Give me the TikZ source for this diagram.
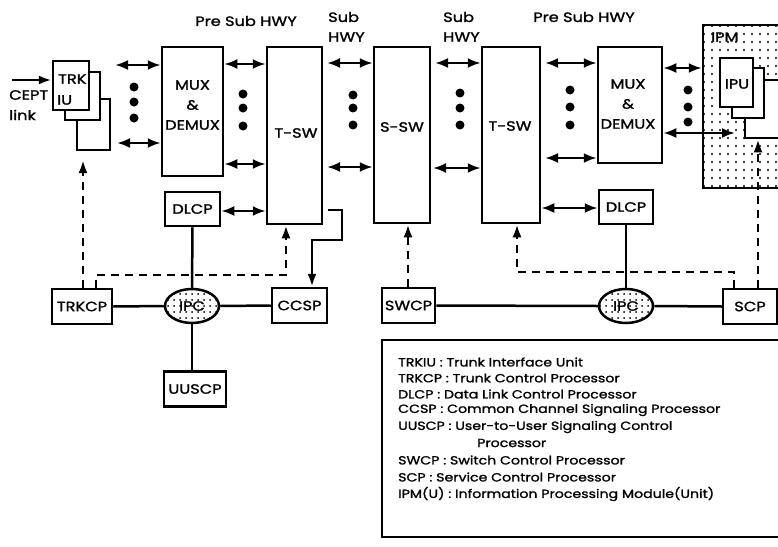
\documentclass[tikz,border=0pt]{standalone}
\usepackage{fontspec}
\setmainfont{Poppins}[FakeStretch=1.2,FakeBold=1.4]
\usetikzlibrary{arrows.meta,shapes.geometric,patterns.meta}
\begin{document}
\begin{tikzpicture}[x=1pt,y=-1pt,
  bx/.style={draw,line width=2.5pt,inner sep=0pt,fill=white},
  lbl/.style={inner sep=0pt,font=\fontsize{13.5}{15}\selectfont},
  lgd/.style={inner sep=0pt,anchor=west,font=\fontsize{11.8}{14}\selectfont},
  dbl/.style={line width=2.5pt,{Latex[length=13pt,width=10pt]}-{Latex[length=13pt,width=10pt]}},
  sarr/.style={line width=2.5pt,-{Latex[length=13pt,width=9pt]}},
  sln/.style={line width=2.5pt},
  dsh/.style={line width=2.5pt,dash pattern=on 8pt off 6pt,-{Latex[length=13pt,width=9pt]}},
  dt/.style={circle,fill,inner sep=0pt,minimum size=9pt},
  ipcst/.style={ellipse,draw,line width=2.5pt,minimum width=54pt,minimum height=34pt,inner sep=0pt,pattern={Dots[distance=6pt,radius=1pt]}}
]
\useasboundingbox (0,0) rectangle (778,546);

% ---- top labels
\node[lbl] (psh1) at (246,21) {Pre Sub HWY};
\node[lbl] (psh2) at (584,17) {Pre Sub HWY};
\node[lbl,anchor=west,align=left] (sh1a) at (328,17) {Sub};
\node[lbl,anchor=west,align=left] (sh1b) at (328,37) {HWY};
\node[lbl,anchor=west,align=left] (sh2a) at (443,17) {Sub};
\node[lbl,anchor=west,align=left] (sh2b) at (443,37) {HWY};
\node[lbl,anchor=west] (cept) at (9,95) {CEPT};
\node[lbl,anchor=west] (link) at (9,115) {link};

% ---- TRKIU stack
\node[bx,minimum width=33pt,minimum height=51pt] (trkiu3) at (93.5,124.5) {};
\node[bx,minimum width=35pt,minimum height=48pt] (trkiu2) at (82.5,96) {};
\node[bx,minimum width=36pt,minimum height=49pt] (trkiu1) at (71,85.5) {};
\node[lbl,anchor=west] (trkt) at (58,79) {TRK};
\node[lbl,anchor=west] (iut) at (57,100) {IU};
\coordinate (ceptin) at (12,80);
\draw[sarr] (ceptin) -- (trkiu1.west |- ceptin);

% ---- main boxes
\node[bx,minimum width=61pt,minimum height=129pt] (mux1) at (192.5,111.5) {};
\node[lbl,align=center,font=\fontsize{13.5}{20}\selectfont] (mux1t) at (192.5,105) {MUX\\\&\\DEMUX};
\node[bx,minimum width=55pt,minimum height=177pt] (tsw1) at (294.5,135.5) {};
\node[lbl] (tsw1t) at (296,133) {T-SW};
\node[bx,minimum width=56pt,minimum height=176pt] (ssw) at (402,135) {};
\node[lbl] (sswt) at (402,127) {S-SW};
\node[bx,minimum width=58pt,minimum height=176pt] (tsw2) at (511,135) {};
\node[lbl] (tsw2t) at (510,126) {T-SW};
\node[bx,minimum width=64pt,minimum height=116pt] (mux2) at (630,105) {};
\node[lbl,align=center,font=\fontsize{13.5}{20}\selectfont] (mux2t) at (628,104) {MUX\\\&\\DEMUX};

% ---- IPM
\node[draw,line width=2.5pt,inner sep=0pt,minimum width=82pt,minimum height=163pt,
      pattern={Dots[distance=8pt,radius=1.1pt]}] (ipm) at (744,106.5) {};
\node[lbl,anchor=west] (ipmt) at (711,37) {IPM};
\node[bx,minimum width=40pt,minimum height=58pt] (ipu3) at (765,109) {};
\node[bx,minimum width=32pt,minimum height=50pt] (ipu2) at (748,93) {};
\node[bx,minimum width=33pt,minimum height=49pt] (ipu1) at (736.5,82.5) {};
\node[lbl] (iput) at (737,84) {IPU};

% ---- horizontal double arrows
\coordinate (a1l) at (115,65);  \draw[dbl] (a1l) -- (mux1.west |- a1l);
\coordinate (a1b) at (117,143); \draw[dbl] (a1b) -- (mux1.west |- a1b);
\coordinate (a2t) at (223,64);  \draw[dbl] (mux1.east |- a2t) -- (tsw1.west |- a2t);
\coordinate (a2b) at (223,164); \draw[dbl] (mux1.east |- a2b) -- (tsw1.west |- a2b);
\coordinate (a3t) at (327,63);  \draw[dbl] (a3t) -- (ssw.west |- a3t);
\coordinate (a3b) at (327,167); \draw[dbl] (a3b) -- (ssw.west |- a3b);
\coordinate (a4t) at (435,63);  \draw[dbl] (a4t) -- (tsw2.west |- a4t);
\coordinate (a4b) at (433,168); \draw[dbl] (a4b) -- (tsw2.west |- a4b);
\coordinate (a5t) at (545,63);  \draw[dbl] (a5t) -- (mux2.west |- a5t);
\coordinate (a5b) at (545,158); \draw[dbl] (a5b) -- (mux2.west |- a5b);
\coordinate (a6t) at (662,68);  \draw[dbl] (mux2.east |- a6t) -- (ipm.west |- a6t);
\coordinate (a6e) at (735,133); \draw[dbl] (mux2.east |- a6e) -- (a6e);

% ---- dots
\foreach \x/\ya/\yb/\yc in {134/87/102/118, 243/94/108/126, 353/95/108/125,
                            460/93/108/125, 570/90/107/125, 688/90/107/122}{
  \node[dt] at (\x,\ya) {};
  \node[dt] at (\x,\yb) {};
  \node[dt] at (\x,\yc) {};
}

% ---- lower left
\node[bx,minimum width=55pt,minimum height=34pt,lbl,draw,line width=2.5pt] (dlcp1) at (192.5,209) {DLCP};
\node[ipcst,lbl] (ipc1) at (192,306) {IPC};
\node[bx,minimum width=60pt,minimum height=35pt,lbl,draw,line width=2.5pt] (trkcp) at (82,306.5) {TRKCP};
\node[bx,minimum width=55pt,minimum height=35pt,lbl,draw,line width=2.5pt] (ccsp) at (299.5,305.5) {CCSP};
\node[bx,minimum width=62pt,minimum height=35pt,lbl,draw,line width=2.5pt] (uuscp) at (195,389) {UUSCP};

\draw[sln] (dlcp1.south) -- (ipc1.north);
\draw[sln] (ipc1.south) -- (uuscp.north -| ipc1.south);
\draw[sln] (trkcp.east) -- (ipc1.west);
\draw[sln] (ipc1.east) -- (ccsp.west);
\coordinate (dl1) at (220,211);
\draw[dbl] (dlcp1.east |- dl1) -- (tsw1.west |- dl1);

\coordinate (ck1) at (328,210);
\coordinate (ck2) at (342,240);
\coordinate (ck3) at (312,240);
\draw[sarr] (ck1) -| (ck2) -- (ck3) -- (ccsp.north -| ck3);

\coordinate (tk1) at (83,160);
\draw[dsh] (trkcp.north -| tk1) -- (tk1);
\coordinate (tk2) at (96,275);
\coordinate (tk3) at (286,275);
\draw[dsh] (trkcp.north -| tk2) -- (tk2) -- (tk3) -- (tsw1.south -| tk3);

% ---- lower right
\node[bx,minimum width=53pt,minimum height=35pt,lbl,draw,line width=2.5pt] (swcp) at (408.5,305.5) {SWCP};
\node[bx,minimum width=54pt,minimum height=34pt,lbl,draw,line width=2.5pt] (dlcp2) at (626,207) {DLCP};
\node[ipcst,lbl] (ipc2) at (626,306) {IPC};
\node[bx,minimum width=54pt,minimum height=35pt,lbl,draw,line width=2.5pt] (scp) at (750,306.5) {SCP};

\draw[sln] (dlcp2.south) -- (ipc2.north);
\draw[sln] (swcp.east) -- (ipc2.west);
\draw[sln] (ipc2.east) -- (scp.west);
\coordinate (dl2) at (540,208);
\draw[dbl] (tsw2.east |- dl2) -- (dlcp2.west |- dl2);

\coordinate (sw1) at (408,300);
\draw[dsh] (swcp.north -| sw1) -- (ssw.south -| sw1);
\coordinate (sc1) at (734,272);
\coordinate (sc2) at (517,272);
\draw[dsh] (scp.north -| sc1) -- (sc1) -- (sc2) -- (tsw2.south -| sc2);
\coordinate (sc3) at (758,300);
\draw[dsh] (scp.north -| sc3) -- (ipu3.south -| sc3);

% ---- legend
\coordinate (lg1) at (785,340);
\coordinate (lg2) at (382,340);
\coordinate (lg3) at (382,537);
\coordinate (lg4) at (785,537);
\draw[line width=2pt] (lg1) -- (lg2) -- (lg3) -- (lg4);
\node[lgd] (l1) at (398,362) {TRKIU : Trunk Interface Unit};
\node[lgd] (l2) at (398,378) {TRKCP : Trunk Control Processor};
\node[lgd] (l3) at (398,394) {DLCP : Data Link Control Processor};
\node[lgd] (l4) at (398,410) {CCSP : Common Channel Signaling Processor};
\node[lgd] (l5) at (398,427) {UUSCP : User-to-User Signaling Control};
\node[lgd] (l6) at (477,443) {Processor};
\node[lgd] (l7) at (398,460) {SWCP : Switch Control Processor};
\node[lgd] (l8) at (398,477) {SCP : Service Control Processor};
\node[lgd] (l9) at (398,494) {IPM(U) : Information Processing Module(Unit)};
\end{tikzpicture}
\end{document}
